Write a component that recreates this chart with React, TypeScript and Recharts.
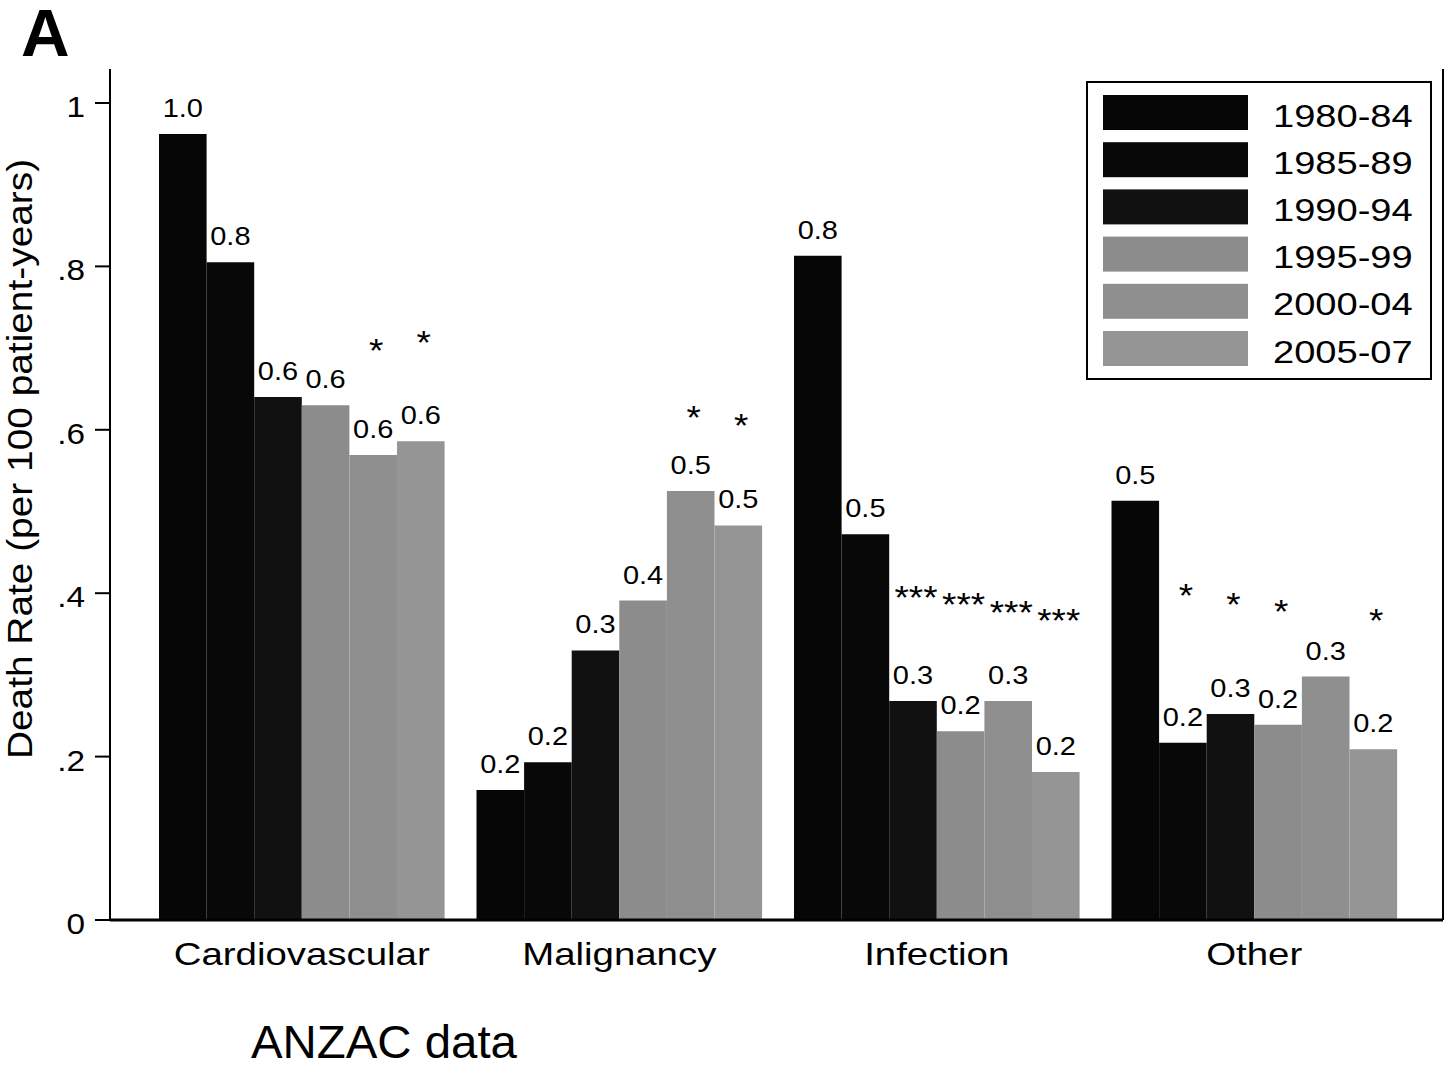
import React from 'react';
import { BarChart, Bar, XAxis, YAxis, Legend, LabelList } from 'recharts';

// Causes of death, ANZAC data: death rate per 100 patient-years by era
const categories = ['Cardiovascular', 'Malignancy', 'Infection', 'Other'];
const periods = ['1980-84', '1985-89', '1990-94', '1995-99', '2000-04', '2005-07'];

const rate1980 = [0.962, 0.159, 0.813, 0.513];
const rate1985 = [0.805, 0.193, 0.472, 0.217];
const rate1990 = [0.64, 0.33, 0.268, 0.252];
const rate1995 = [0.63, 0.391, 0.231, 0.239];
const rate2000 = [0.569, 0.525, 0.268, 0.298];
const rate2005 = [0.586, 0.483, 0.181, 0.209];

// Significance markers (vs 1980-84) and the rate level each marker sits at
const sig1980 = ['', '', '', ''];
const sig1985 = ['', '', '', '*'];
const sig1990 = ['', '', '***', '*'];
const sig1995 = ['', '', '***', '*'];
const sig2000 = ['*', '*', '***', ''];
const sig2005 = ['*', '*', '***', '*'];

const sigLevel1980 = [0, 0, 0, 0];
const sigLevel1985 = [0, 0, 0, 0.406];
const sigLevel1990 = [0, 0, 0.404, 0.395];
const sigLevel1995 = [0, 0, 0.395, 0.387];
const sigLevel2000 = [0.706, 0.624, 0.386, 0];
const sigLevel2005 = [0.716, 0.614, 0.376, 0.376];

const yTicks = [0, 0.2, 0.4, 0.6, 0.8, 1];
const yTickLabels = ['0', '.2', '.4', '.6', '.8', '1'];

const rates = [rate1980, rate1985, rate1990, rate1995, rate2000, rate2005];
const sigs = [sig1980, sig1985, sig1990, sig1995, sig2000, sig2005];
const sigLevels = [sigLevel1980, sigLevel1985, sigLevel1990, sigLevel1995, sigLevel2000, sigLevel2005];

const colors = ['#060606', '#080808', '#111111', '#8c8c8c', '#8f8f8f', '#959595'];

const data = categories.map((cat, i) => {
  const row: Record<string, string | number> = { cat };
  periods.forEach((p, s) => {
    row[p] = rates[s][i];
  });
  return row;
});

const FONT = '"Liberation Sans", Arial, Helvetica, sans-serif';

// Text drawn with a slight horizontal stretch (wide sans look)
function SText(props: {
  x: number;
  y: number;
  size: number;
  sx?: number;
  anchor?: 'start' | 'middle' | 'end';
  weight?: string | number;
  rotate?: number;
  children: React.ReactNode;
}) {
  const { x, y, size, sx = 1.18, anchor = 'middle', weight = 'normal', rotate = 0, children } = props;
  const t = `translate(${x} ${y})${rotate ? ` rotate(${rotate})` : ''} scale(${sx} 1)`;
  return (
    <text
      transform={t}
      x={0}
      y={0}
      fontSize={size}
      fontFamily={FONT}
      fontWeight={weight}
      textAnchor={anchor}
      fill="#000"
    >
      {children}
    </text>
  );
}

const makeBarLabel = (s: number) => (props: any) => {
  const vb = props.viewBox || {};
  const x = props.x ?? vb.x;
  const y = props.y ?? vb.y;
  const width = props.width ?? vb.width;
  const height = props.height ?? vb.height;
  const index = props.index;
  const value = Number(props.value);
  if (x == null || y == null || !value) return null;
  const cx = x + width / 2;
  const base = y + height;
  const perUnit = height / value;
  const mark = sigs[s][index];
  return (
    <g>
      <SText x={cx} y={y - 17} size={25} sx={1.16}>
        {value.toFixed(1)}
      </SText>
      {mark ? (
        <SText x={cx + 3} y={base - sigLevels[s][index] * perUnit + 19} size={33} sx={1.12}>
          {mark}
        </SText>
      ) : null}
    </g>
  );
};

const XTick = (props: any) => {
  const { x, y, payload } = props;
  return (
    <SText x={x} y={y + 45} size={32} sx={1.2}>
      {payload.value}
    </SText>
  );
};

const YTick = (props: any) => {
  const { x, y, payload } = props;
  const idx = yTicks.indexOf(payload.value);
  return (
    <SText x={x - 8} y={y + 14} size={29} sx={1.15} anchor="end">
      {idx >= 0 ? yTickLabels[idx] : String(payload.value)}
    </SText>
  );
};

const renderLegend = (props: any) => {
  const items = (props.payload || []) as any[];
  return (
    <div
      style={{
        width: 346,
        height: 299,
        border: '2px solid #000',
        boxSizing: 'border-box',
        background: '#fff',
      }}
    >
      <svg width={342} height={295} style={{ display: 'block' }}>
        {items.map((it, i) => {
          const top = 12 + i * 47.2;
          return (
            <g key={String(it.value)}>
              <rect x={15} y={top} width={145} height={35} fill={it.color} />
              <SText x={185} y={top + 31.5} size={32} sx={1.19} anchor="start">
                {it.value}
              </SText>
            </g>
          );
        })}
      </svg>
    </div>
  );
};

export default function App() {
  return (
    <div
      style={{
        position: 'absolute',
        left: 0,
        top: 0,
        width: 1447,
        height: 1066,
        background: '#fff',
      }}
    >
      <BarChart
        width={1447}
        height={1066}
        data={data}
        margin={{ top: 69, right: 2, left: 0, bottom: 86 }}
        barGap={0}
      >
        <XAxis
          dataKey="cat"
          padding={{ left: 33, right: 30 }}
          tickLine={false}
          tickSize={0}
          tickMargin={0}
          height={60}
          axisLine={{ stroke: '#000', strokeWidth: 3 }}
          tick={<XTick />}
          interval={0}
          label={{
            content: () => (
              <g>
                <SText x={251} y={1058} size={46} sx={1.03} anchor="start">
                  ANZAC data
                </SText>
                <SText x={21} y={56} size={66} sx={1.02} anchor="start" weight="bold">
                  A
                </SText>
              </g>
            ),
          }}
        />
        <XAxis
          xAxisId="top"
          dataKey="cat"
          orientation="top"
          height={0}
          tick={false}
          tickLine={false}
          axisLine={{ stroke: '#000', strokeWidth: 2 }}
        />
        <YAxis
          type="number"
          domain={[0, 1.0416]}
          ticks={yTicks}
          width={110}
          tickSize={15}
          tickLine={{ stroke: '#000', strokeWidth: 2 }}
          axisLine={{ stroke: '#000', strokeWidth: 2 }}
          tick={<YTick />}
          interval={0}
          label={{
            content: () => (
              <SText x={32} y={459} rotate={-90} size={35} sx={1.11}>
                Death Rate (per 100 patient-years)
              </SText>
            ),
          }}
        />
        <YAxis
          yAxisId="right"
          orientation="right"
          type="number"
          domain={[0, 1]}
          width={2}
          tick={false}
          tickLine={false}
          axisLine={{ stroke: '#000', strokeWidth: 2 }}
        />
        <Legend
          layout="horizontal"
          verticalAlign="middle"
          align="center"
          width={346}
          height={299}
          wrapperStyle={{ position: 'absolute', left: 1086, top: 81, width: 346, height: 299 }}
          content={renderLegend}
        />
        {periods.map((p, s) => (
          <Bar
            key={p}
            dataKey={p}
            name={p}
            fill={colors[s]}
            barSize={47.6}
            isAnimationActive={false}
          >
            <LabelList dataKey={p} content={makeBarLabel(s)} />
          </Bar>
        ))}
      </BarChart>
    </div>
  );
}
